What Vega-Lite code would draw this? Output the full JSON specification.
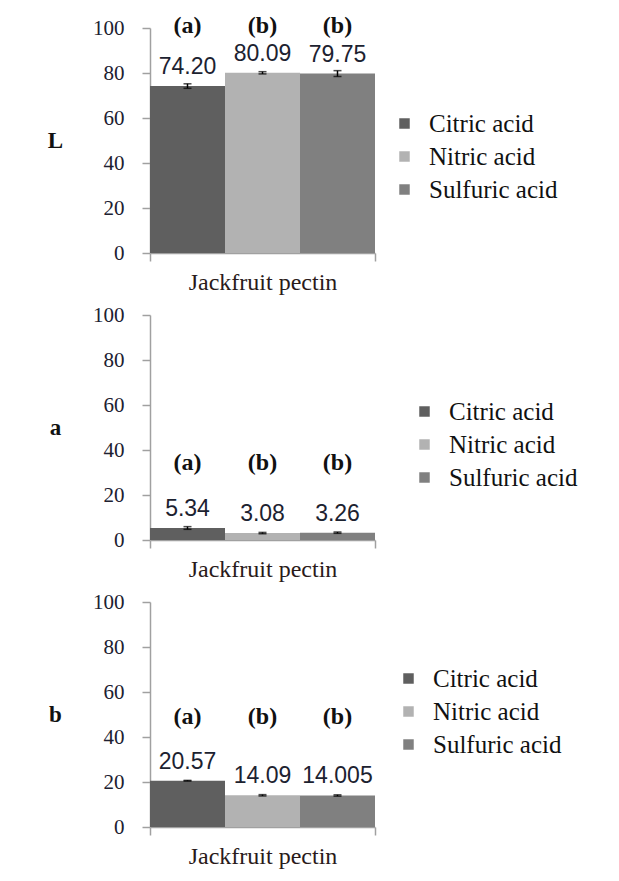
{
  "$schema": "https://vega.github.io/schema/vega-lite/v6.json",
  "padding": {"left": 47, "top": 13, "right": 5, "bottom": 5},
  "background": "white",
  "datasets": {
    "pectin": [
      {"param": "L", "sample": "Jackfruit pectin", "acid": "Citric acid", "value": 74.20, "err": 1.0, "label": "74.20", "letter": "(a)"},
      {"param": "L", "sample": "Jackfruit pectin", "acid": "Nitric acid", "value": 80.09, "err": 0.5, "label": "80.09", "letter": "(b)"},
      {"param": "L", "sample": "Jackfruit pectin", "acid": "Sulfuric acid", "value": 79.75, "err": 1.3, "label": "79.75", "letter": "(b)"},
      {"param": "a", "sample": "Jackfruit pectin", "acid": "Citric acid", "value": 5.34, "err": 0.6, "label": "5.34", "letter": "(a)"},
      {"param": "a", "sample": "Jackfruit pectin", "acid": "Nitric acid", "value": 3.08, "err": 0.3, "label": "3.08", "letter": "(b)"},
      {"param": "a", "sample": "Jackfruit pectin", "acid": "Sulfuric acid", "value": 3.26, "err": 0.3, "label": "3.26", "letter": "(b)"},
      {"param": "b", "sample": "Jackfruit pectin", "acid": "Citric acid", "value": 20.57, "err": 0.15, "label": "20.57", "letter": "(a)"},
      {"param": "b", "sample": "Jackfruit pectin", "acid": "Nitric acid", "value": 14.09, "err": 0.3, "label": "14.09", "letter": "(b)"},
      {"param": "b", "sample": "Jackfruit pectin", "acid": "Sulfuric acid", "value": 14.005, "err": 0.3, "label": "14.005", "letter": "(b)"}
    ]
  },
  "config": {
    "view": {"stroke": null},
    "axis": {
      "domainColor": "#a0a0a0",
      "domainWidth": 1.5,
      "tickColor": "#a0a0a0",
      "tickWidth": 1.5,
      "tickSize": 8,
      "grid": false,
      "labelFont": "Liberation Serif",
      "labelFontSize": 21,
      "labelColor": "#202030"
    },
    "legend": {
      "title": null,
      "labelFont": "Liberation Serif",
      "labelFontSize": 25,
      "labelColor": "#111111",
      "symbolType": "square",
      "symbolSize": 110,
      "symbolStrokeWidth": 0,
      "rowPadding": 7,
      "labelOffset": 12
    }
  },
  "spacing": 62,
  "bounds": "flush",
  "resolve": {"scale": {"color": "independent"}, "legend": {"color": "independent"}},
  "vconcat": [
    {
      "width": 225, "height": 225,
      "data": {"name": "pectin"},
      "transform": [{"filter": "datum.param === 'L'"}],
      "encoding": {
        "x": {"field": "sample", "type": "nominal", "scale": {"paddingInner": 0, "paddingOuter": 0},
              "axis": {"title": null, "labelAngle": 0, "tickBand": "extent", "labelPadding": 9, "labelFontSize": 24, "labelColor": "#2a1a1a"}},
        "xOffset": {"field": "acid", "type": "nominal", "sort": ["Citric acid", "Nitric acid", "Sulfuric acid"], "scale": {"paddingInner": 0, "paddingOuter": 0}},
        "y": {"field": "value", "type": "quantitative", "scale": {"domain": [0, 100], "nice": false},
              "axis": {"values": [0, 20, 40, 60, 80, 100], "labelPadding": 18, "title": "L", "titleAngle": 0, "titleX": -95, "titleY": 112, "titleAlign": "center", "titleBaseline": "middle", "titleFont": "Liberation Serif", "titleFontSize": 23, "titleFontWeight": "bold", "titleColor": "#111111"}}
      },
      "layer": [
        {
          "mark": {"type": "bar"},
          "encoding": {
            "color": {"field": "acid", "type": "nominal", "sort": ["Citric acid", "Nitric acid", "Sulfuric acid"],
                      "scale": {"domain": ["Citric acid", "Nitric acid", "Sulfuric acid"], "range": ["#5f5f5f", "#b2b2b2", "#808080"]},
                      "legend": {"orient": "none", "legendX": 242, "legendY": 83}}
          }
        },
        {
          "mark": {"type": "errorbar", "color": "black", "thickness": 1.5, "ticks": {"size": 8, "color": "black", "thickness": 1.5}},
          "encoding": {"yError": {"field": "err"}}
        },
        {
          "mark": {"type": "text", "font": "Liberation Sans", "fontSize": 23, "dy": -12, "baseline": "alphabetic", "color": "#1c2230"},
          "encoding": {"text": {"field": "label"}}
        },
        {
          "mark": {"type": "text", "font": "Liberation Serif", "fontWeight": "bold", "fontSize": 24, "baseline": "alphabetic", "color": "#111111"},
          "encoding": {"y": {"datum": 98}, "text": {"field": "letter"}}
        }
      ]
    },
    {
      "width": 225, "height": 225,
      "data": {"name": "pectin"},
      "transform": [{"filter": "datum.param === 'a'"}],
      "encoding": {
        "x": {"field": "sample", "type": "nominal", "scale": {"paddingInner": 0, "paddingOuter": 0},
              "axis": {"title": null, "labelAngle": 0, "tickBand": "extent", "labelPadding": 9, "labelFontSize": 24, "labelColor": "#2a1a1a"}},
        "xOffset": {"field": "acid", "type": "nominal", "sort": ["Citric acid", "Nitric acid", "Sulfuric acid"], "scale": {"paddingInner": 0, "paddingOuter": 0}},
        "y": {"field": "value", "type": "quantitative", "scale": {"domain": [0, 100], "nice": false},
              "axis": {"values": [0, 20, 40, 60, 80, 100], "labelPadding": 18, "title": "a", "titleAngle": 0, "titleX": -95, "titleY": 112, "titleAlign": "center", "titleBaseline": "middle", "titleFont": "Liberation Serif", "titleFontSize": 23, "titleFontWeight": "bold", "titleColor": "#111111"}}
      },
      "layer": [
        {
          "mark": {"type": "bar"},
          "encoding": {
            "color": {"field": "acid", "type": "nominal", "sort": ["Citric acid", "Nitric acid", "Sulfuric acid"],
                      "scale": {"domain": ["Citric acid", "Nitric acid", "Sulfuric acid"], "range": ["#5f5f5f", "#b2b2b2", "#808080"]},
                      "legend": {"orient": "none", "legendX": 262, "legendY": 84}}
          }
        },
        {
          "mark": {"type": "errorbar", "color": "black", "thickness": 1.5, "ticks": {"size": 8, "color": "black", "thickness": 1.5}},
          "encoding": {"yError": {"field": "err"}}
        },
        {
          "mark": {"type": "text", "font": "Liberation Sans", "fontSize": 23, "dy": -12, "baseline": "alphabetic", "color": "#1c2230"},
          "encoding": {"text": {"field": "label"}}
        },
        {
          "mark": {"type": "text", "font": "Liberation Serif", "fontWeight": "bold", "fontSize": 24, "baseline": "alphabetic", "color": "#111111"},
          "encoding": {"y": {"datum": 31}, "text": {"field": "letter"}}
        }
      ]
    },
    {
      "width": 225, "height": 225,
      "data": {"name": "pectin"},
      "transform": [{"filter": "datum.param === 'b'"}],
      "encoding": {
        "x": {"field": "sample", "type": "nominal", "scale": {"paddingInner": 0, "paddingOuter": 0},
              "axis": {"title": null, "labelAngle": 0, "tickBand": "extent", "labelPadding": 9, "labelFontSize": 24, "labelColor": "#2a1a1a"}},
        "xOffset": {"field": "acid", "type": "nominal", "sort": ["Citric acid", "Nitric acid", "Sulfuric acid"], "scale": {"paddingInner": 0, "paddingOuter": 0}},
        "y": {"field": "value", "type": "quantitative", "scale": {"domain": [0, 100], "nice": false},
              "axis": {"values": [0, 20, 40, 60, 80, 100], "labelPadding": 18, "title": "b", "titleAngle": 0, "titleX": -95, "titleY": 112, "titleAlign": "center", "titleBaseline": "middle", "titleFont": "Liberation Serif", "titleFontSize": 23, "titleFontWeight": "bold", "titleColor": "#111111"}}
      },
      "layer": [
        {
          "mark": {"type": "bar"},
          "encoding": {
            "color": {"field": "acid", "type": "nominal", "sort": ["Citric acid", "Nitric acid", "Sulfuric acid"],
                      "scale": {"domain": ["Citric acid", "Nitric acid", "Sulfuric acid"], "range": ["#5f5f5f", "#b2b2b2", "#808080"]},
                      "legend": {"orient": "none", "legendX": 246, "legendY": 64}}
          }
        },
        {
          "mark": {"type": "errorbar", "color": "black", "thickness": 1.5, "ticks": {"size": 8, "color": "black", "thickness": 1.5}},
          "encoding": {"yError": {"field": "err"}}
        },
        {
          "mark": {"type": "text", "font": "Liberation Sans", "fontSize": 23, "dy": -12, "baseline": "alphabetic", "color": "#1c2230"},
          "encoding": {"text": {"field": "label"}}
        },
        {
          "mark": {"type": "text", "font": "Liberation Serif", "fontWeight": "bold", "fontSize": 24, "baseline": "alphabetic", "color": "#111111"},
          "encoding": {"y": {"datum": 46}, "text": {"field": "letter"}}
        }
      ]
    }
  ]
}
